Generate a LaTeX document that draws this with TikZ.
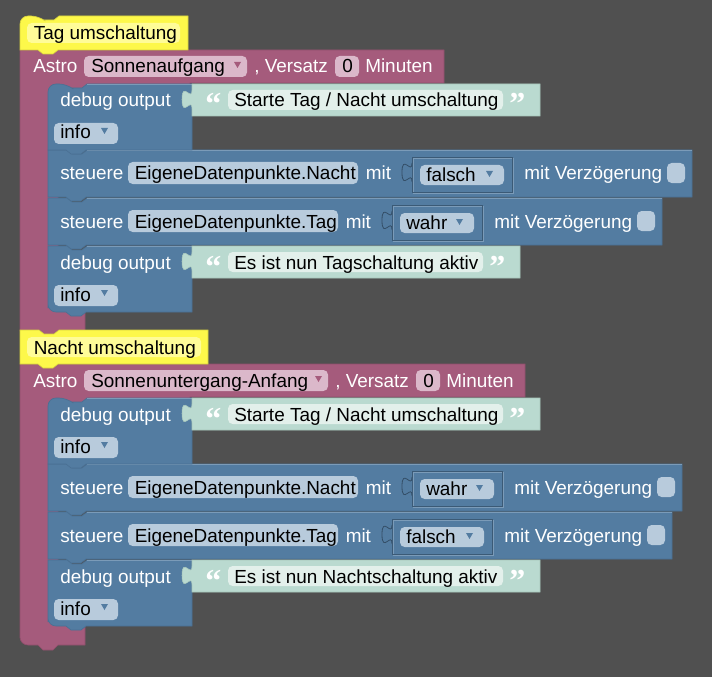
\documentclass[tikz,border=0pt]{standalone}
\usepackage{fontspec}
\setmainfont{Liberation Sans}
\newfontfamily\quotefont{Liberation Serif}
\definecolor{backdrop}{HTML}{505050}
\definecolor{bluefill}{HTML}{537CA1}
\definecolor{blueedge}{HTML}{4A7093}
\definecolor{bluelight}{HTML}{7B9BB8}
\definecolor{bluefield}{HTML}{B8CBDC}
\definecolor{purplefill}{HTML}{A55B7C}
\definecolor{purpleedge}{HTML}{904F6C}
\definecolor{purplefield}{HTML}{DBB8CA}
\definecolor{yellowfill}{HTML}{FDF84A}
\definecolor{yellowedge}{HTML}{D6D13E}
\definecolor{yellowfield}{HTML}{FFFC98}
\definecolor{greenfill}{HTML}{BADAD0}
\definecolor{greenedge}{HTML}{A8C7BC}
\definecolor{greenfield}{HTML}{E3F0EB}
\tikzset{
  blocklabel/.style={anchor=base west, inner sep=0pt, text=white, font=\fontsize{14.2}{16}\selectfont},
  fieldlabel/.style={anchor=base west, inner sep=0pt, text=black, font=\fontsize{14.2}{16}\selectfont},
  quotemark/.style={anchor=base west, inner sep=0pt, text=white, font=\quotefont\bfseries\fontsize{24}{24}\selectfont},
  blueblock/.style={fill=bluefill, draw=blueedge, line width=0.5pt},
  purpleblock/.style={fill=purplefill, draw=purpleedge, line width=0.5pt},
  yellowblock/.style={fill=yellowfill, draw=yellowedge, line width=0.5pt},
  greenblock/.style={fill=greenfill, draw=greenedge, line width=0.4pt},
  fieldbox/.style={rounded corners=3.5pt}
}
\newcommand{\tabdown}[2]{.. controls (#1,#2+12.5) and (#1-10,#2-10) .. (#1-10,#2+9.4) .. controls (#1-10,#2+28.8) and (#1,#2+6.25) .. (#1,#2+18.75)}
\newcommand{\tabup}[2]{.. controls (#1,#2+6.25) and (#1-10,#2+28.8) .. (#1-10,#2+9.4) .. controls (#1-10,#2-10) and (#1,#2+12.5) .. (#1,#2)}
\newcommand{\dropmark}[3]{\fill[#3] (#1,#2) -- (#1+7,#2) -- (#1+3.5,#2+6) -- cycle;}
\newcommand{\stackblock}[7]{\draw[#1] [#6] (#2,#3+12) -- (#2,#3) -- (#2+19,#3) [sharp corners] -- ++(5,4) -- ++(10,0) -- ++(5,-4) -- (#4,#3) -- (#4,#5) -- (#2+38,#5) -- ++(-5,4) -- ++(-10,0) -- ++(-5,-4) [#7] -- (#2,#5) -- (#2,#5-12) [sharp corners] -- cycle;}
\newcommand{\debugrow}[4]{
  \stackblock{blueblock}{48}{#1}{192}{#1+66}{#2}{#3}
  \draw[bluelight, line width=0.5pt] (87,#1+0.6) -- (192,#1+0.6);
  \node[blocklabel] (debug#4) at (60,#1+23) {debug output};
  \fill[bluefield, fieldbox] (54,#1+39) rectangle (118,#1+60);
  \node[fieldlabel] (level#4) at (60,#1+55) {info};
  \dropmark{101}{#1+44}{bluefill}
}
\newcommand{\stringrow}[5]{
  \draw[greenblock] (192,#1) -- (#2,#1) -- (#2,#1+32) -- (192,#1+32) -- (192,#1+24.75) \tabup{192}{#1+6} -- cycle;
  \node[quotemark] (open#5) at (205,#1+31) {“};
  \fill[greenfield, fieldbox] (228,#1+6) rectangle (#3,#1+26);
  \node[fieldlabel] (text#5) at (234,#1+23) {#4};
  \node[quotemark] (close#5) at (#3+6,#1+31) {”};
}
\newcommand{\steuerrow}[8]{
  \stackblock{blueblock}{48}{#1}{#2}{#1+47}{sharp corners}{sharp corners}
  \draw[bluelight, line width=0.5pt] (87,#1+0.6) -- (#2,#1+0.6);
  \node[blocklabel] (steuere#8) at (60,#1+30) {steuere};
  \fill[bluefield, fieldbox] (128,#1+12) rectangle (#3,#1+34);
  \node[fieldlabel] (data#8) at (134.5,#1+30) {#4};
  \node[blocklabel] (mit#8) at (#3+7.5,#1+30) {mit};
  \draw[bluelight, line width=0.5pt] (#5+1,#1+8) rectangle (#6+1,#1+43);
  \draw[blueedge!80!black, line width=0.7pt] (#5,#1+7) rectangle (#6,#1+42);
  \draw[blueedge!70!black, line width=0.6pt, fill=bluefill] (#5,#1+13) \tabdown{#5}{#1+13};
  \fill[bluefield, fieldbox] (#5+8,#1+15) rectangle (#6-8,#1+35);
  \node[fieldlabel] (value#8) at (#5+14,#1+31) {#7};
  \dropmark{#6-26}{#1+21}{bluefill}
  \node[blocklabel] (delay#8) at (#6+12,#1+30) {mit Verzögerung};
  \fill[bluefield, fieldbox] (#2-25,#1+13) rectangle (#2-7,#1+33);
}
\begin{document}
\begin{tikzpicture}[x=0.75pt, y=-0.75pt]
\useasboundingbox (0,0) rectangle (712,677);
\fill[backdrop] (0,0) rectangle (712,677);

\draw[purpleblock] (20,50) -- (444,50) -- (444,83) -- (190,83) -- (190,94) -- (58,94) -- (58,302) -- (85,302) -- (85,331) -- (58,331) -- (53,335) -- (43,335) -- (38,331) -- (20,331) -- cycle;
\draw[purpleblock] (20,364) -- (525,364) -- (525,397) -- (190,397) -- (190,408) -- (58,408) -- (58,616) -- (85,616) -- (85,645) -- (58,645) -- (53,650) -- (43,650) -- (38,645) [rounded corners=6pt] -- (20,645) -- (20,630) [sharp corners] -- cycle;

\stackblock{yellowblock}{20}{16}{188}{50}{rounded corners=6pt}{sharp corners}
\fill[yellowfield, fieldbox] (27,23) rectangle (180,43);
\node[fieldlabel] (title1) at (33.5,40) {Tag umschaltung};
\stackblock{yellowblock}{20}{330}{208}{364}{sharp corners}{sharp corners}
\fill[yellowfield, fieldbox] (27,337) rectangle (201,357);
\node[fieldlabel] (title2) at (33.5,354) {Nacht umschaltung};

\node[blocklabel] (astro1) at (33,73) {Astro};
\fill[purplefield, fieldbox] (84,56) rectangle (247,77);
\node[fieldlabel] (event1) at (91,73) {Sonnenaufgang};
\dropmark{234}{62}{purplefill}
\node[blocklabel] (versatz1) at (254,73) {, Versatz};
\fill[purplefield, fieldbox] (335,56) rectangle (359,77);
\node[fieldlabel] (offset1) at (342,73) {0};
\node[blocklabel] (minuten1) at (365,73) {Minuten};

\node[blocklabel] (astro2) at (33,387) {Astro};
\fill[purplefield, fieldbox] (84,370) rectangle (328,391);
\node[fieldlabel] (event2) at (91,387) {Sonnenuntergang-Anfang};
\dropmark{315}{376}{purplefill}
\node[blocklabel] (versatz2) at (335,387) {, Versatz};
\fill[purplefield, fieldbox] (416,370) rectangle (440,391);
\node[fieldlabel] (offset2) at (423,387) {0};
\node[blocklabel] (minuten2) at (446,387) {Minuten};

\steuerrow{512}{672}{338}{EigeneDatenpunkte.Tag}{392}{492}{falsch}{d}
\steuerrow{464}{682}{358}{EigeneDatenpunkte.Nacht}{412}{502}{wahr}{c}
\steuerrow{198}{662}{338}{EigeneDatenpunkte.Tag}{392}{482}{wahr}{b}
\steuerrow{150}{692}{358}{EigeneDatenpunkte.Nacht}{412}{512}{falsch}{a}

\debugrow{560}{sharp corners}{rounded corners=6pt}{d}
\debugrow{398}{rounded corners=6pt}{sharp corners}{c}
\debugrow{246}{sharp corners}{rounded corners=6pt}{b}
\debugrow{84}{rounded corners=6pt}{sharp corners}{a}

\stringrow{84}{540}{503}{Starte Tag / Nacht umschaltung}{a}
\stringrow{246}{520}{483}{Es ist nun Tagschaltung aktiv}{b}
\stringrow{398}{540}{503}{Starte Tag / Nacht umschaltung}{c}
\stringrow{560}{540}{503}{Es ist nun Nachtschaltung aktiv}{d}
\end{tikzpicture}
\end{document}
